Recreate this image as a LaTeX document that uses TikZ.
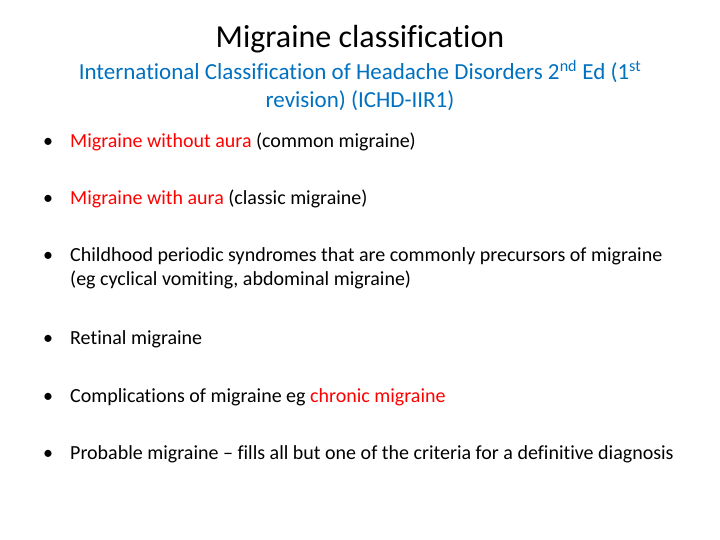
\documentclass[tikz,border=0pt]{standalone}
\usepackage{fontspec}
\setmainfont{Carlito}[Ligatures=NoCommon]
\definecolor{ttlblue}{HTML}{0070C0}
\definecolor{hl}{HTML}{FF0000}
\begin{document}
\begin{tikzpicture}[x=1bp,y=-1bp,
  bul/.style={anchor=base west,inner sep=0,font=\fontsize{20bp}{23bp}\selectfont},
  dot/.style={anchor=base,inner sep=0,font=\fontsize{20bp}{23bp}\selectfont},
  sub/.style={anchor=base,inner sep=0,text=ttlblue,font=\fontsize{23bp}{28bp}\selectfont}]
\useasboundingbox (0,0) rectangle (720,540);
\node[anchor=base,inner sep=0,font=\fontsize{32bp}{34bp}\selectfont] (t) at (360,48) {Migraine classification};
\node[sub] (s1) at (360,80) {International Classification of Headache Disorders 2\textsuperscript{nd} Ed (1\textsuperscript{st}};
\node[sub] (s2) at (360,108) {revision) (ICHD-IIR1)};
\foreach \y/\n in {148/a,205/b,262/c,344/d,402/e,459/f} \node[dot] (d\n) at (48,\y) {•};
\node[bul] (ba) at (70,148) {\textcolor{hl}{Migraine without aura} (common migraine)};
\node[bul] (bb) at (70,205) {\textcolor{hl}{Migraine with aura} (classic migraine)};
\node[bul] (bc) at (70,262) {Childhood periodic syndromes that are commonly precursors of migraine};
\node[bul] (bc2) at (70,286) {(eg cyclical vomiting, abdominal migraine)};
\node[bul] (bd) at (70,344) {Retinal migraine};
\node[bul] (be) at (70,402) {Complications of migraine eg \textcolor{hl}{chronic migraine}};
\node[bul] (bf) at (70,459) {Probable migraine – fills all but one of the criteria for a definitive diagnosis};
\end{tikzpicture}
\end{document}
